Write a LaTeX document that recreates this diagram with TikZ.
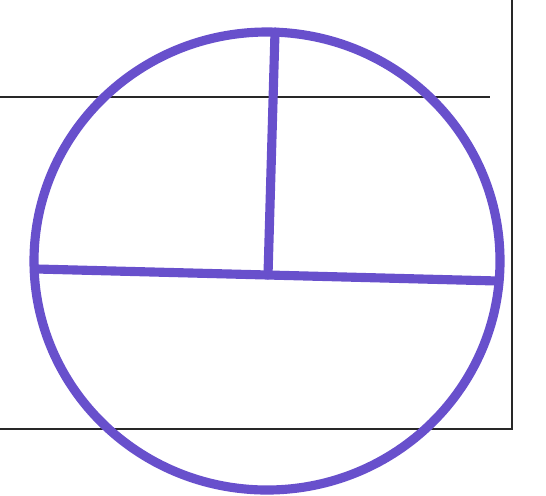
\documentclass[tikz,border=0pt]{standalone}
\usepackage{tikz}
\definecolor{penviolet}{RGB}{104,80,204}
\definecolor{ruleink}{RGB}{40,40,40}

\begin{document}
\begin{tikzpicture}[
        x=0.02cm, y=-0.02cm,
        ink/.style={draw=penviolet, line width=5.2pt, line cap=round},
        rule/.style={draw=ruleink, line width=0.9pt}
    ]
        % Canvas
        \useasboundingbox (0,0) rectangle (546,495);
        \clip (0,0) rectangle (546,495);

        % Ruled paper
        \draw[rule] (0,97) -- (490,97);
        \draw[rule] (0,429) -- (512,429) -- (512,0);

        % Points on the circle
        \coordinate (centre) at (267,261);
        \coordinate (west) at (37,269);
        \coordinate (east) at (498,281);
        \coordinate (north) at (275,32);
        \coordinate (foot) at (268,275);

        % Circle with chord and radius
        \draw[ink] (centre) ellipse [x radius=233, y radius=229];
        \draw[ink] (west) -- (foot) -- (east);
        \draw[ink] (north) -- (foot);

    \end{tikzpicture}
\end{document}
